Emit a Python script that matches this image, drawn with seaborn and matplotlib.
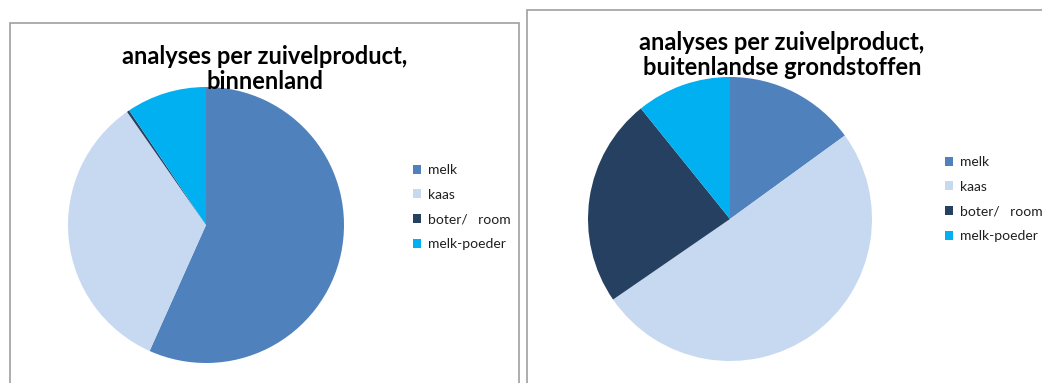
import matplotlib
matplotlib.use("Agg")
import matplotlib.pyplot as plt
import seaborn as sns
from matplotlib.patches import Rectangle

sns.set_theme(style="white")
plt.rcParams['font.family'] = ['Lato', 'DejaVu Sans']

# data (shares)
categories = ['melk', 'kaas', 'boter/   room', 'melk-poeder']
binnenland = [56.7, 33.6, 0.3, 9.4]
buitenland = [15.0, 50.4, 23.8, 10.8]
colors = ['#4F81BD', '#C6D9F1', '#254061', '#00B0F0']
titles = ['analyses per zuivelproduct,\nbinnenland',
          'analyses per zuivelproduct,\nbuitenlandse grondstoffen']

W, H = 1042, 383
fig = plt.figure(figsize=(W / 100, H / 100), dpi=100)

def px(x, y, w, h):
    # pixel box (top-left origin) -> figure fraction
    return [x / W, 1 - (y + h) / H, w / W, h / H]

# panel frames
for (x0, y0, x1, y1) in [(10, 23, 519, 400), (527, 10, 1060, 400)]:
    fig.patches.append(Rectangle((x0 / W, 1 - y1 / H), (x1 - x0) / W, (y1 - y0) / H,
                                 transform=fig.transFigure, fill=False,
                                 edgecolor='#A0A0A0', linewidth=1.2))

pies = [
    dict(vals=binnenland, box=px(68, 87, 276, 276), title=titles[0], tx=265, ty=45,
         leg=(413, 164)),
    dict(vals=buitenland, box=px(588, 77, 284, 284), title=titles[1], tx=782, ty=31,
         leg=(945, 156)),
]

for p in pies:
    ax = fig.add_axes(p['box'])
    wedges, _ = ax.pie(p['vals'], colors=colors, startangle=90, counterclock=False,
                       radius=1, wedgeprops=dict(linewidth=0))
    ax.set_xlim(-1, 1)
    ax.set_ylim(-1, 1)
    ax.set_aspect('equal')
    ax.axis('off')
    fig.text(p['tx'] / W, 1 - p['ty'] / H, p['title'], ha='center', va='top',
             fontsize=17, fontweight='bold', color='black', linespacing=1.13)
    lx, ly = p['leg']
    fig.legend(wedges, categories, loc='upper left',
               bbox_to_anchor=(lx / W, 1 - ly / H), frameon=False,
               fontsize=10, handlelength=0.6, handleheight=0.6,
               handletextpad=0.45, labelspacing=0.92, borderaxespad=0,
               borderpad=0, labelcolor='#202020')

fig.savefig('out.png', dpi=100)
